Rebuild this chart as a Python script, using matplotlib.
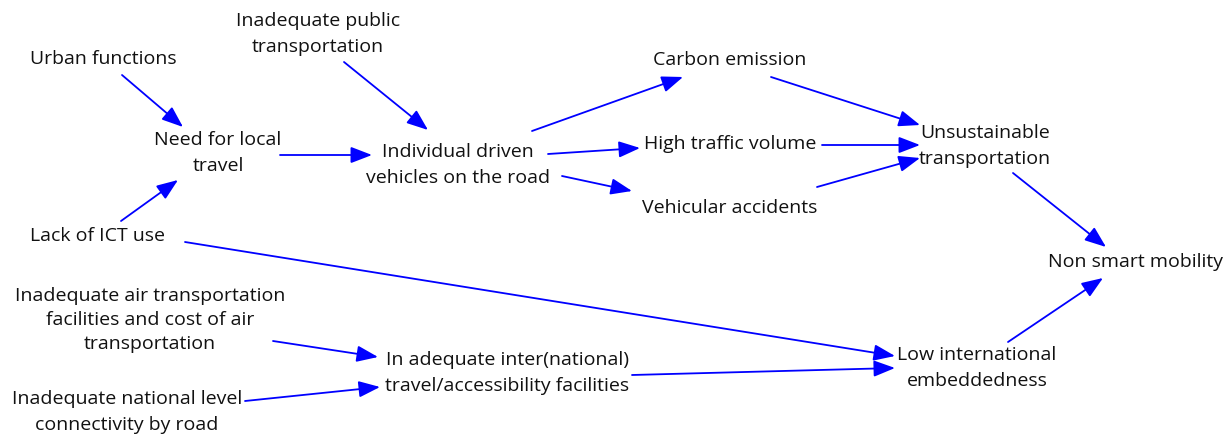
import matplotlib
matplotlib.use("Agg")
import matplotlib.pyplot as plt
from matplotlib.patches import FancyArrowPatch

# Nodes: label text and center position (pixel coordinates, y downward)
node_labels = [
    "Inadequate public\ntransportation",
    "Urban functions",
    "Need for local\ntravel",
    "Individual driven\nvehicles on the road",
    "Carbon emission",
    "High traffic volume",
    "Vehicular accidents",
    "Unsustainable\ntransportation",
    "Non smart mobility",
    "Lack of ICT use",
    "Inadequate air transportation\nfacilities and cost of air\ntransportation",
    "In adequate inter(national)\ntravel/accessibility facilities",
    "Inadequate national level\nconnectivity by road",
    "Low international\nembeddedness",
]
node_x = [318, 103, 218, 458, 730, 730, 730, 985, 1135, 97, 150, 507, 127, 977]
node_y = [34, 59, 153, 165, 60, 144, 208, 146, 262, 236, 320, 373, 412, 368]

# Causal links (start point -> end point)
arrow_start = [(122, 75), (121, 221), (280, 155), (344, 62), (532, 131), (548, 154),
               (562, 176), (771, 77), (822, 145), (817, 187), (1013, 173), (1008, 342),
               (185, 242), (632, 375), (273, 341), (245, 401)]
arrow_end = [(183, 127), (178, 180), (372, 155), (428, 130), (683, 77), (640, 148),
             (632, 191), (920, 125), (920, 145), (920, 158), (1106, 247), (1103, 278),
             (895, 356), (895, 368), (378, 357), (380, 387)]

W, H = 1228, 437
fig = plt.figure(figsize=(W / 100, H / 100), dpi=100)
ax = fig.add_axes([0, 0, 1, 1])
ax.set_xlim(0, W)
ax.set_ylim(H, 0)
ax.axis("off")

for lbl, x, y in zip(node_labels, node_x, node_y):
    ls = 1.45 if lbl.count("\n") > 1 else 1.6
    ax.text(x, y, lbl, ha="center", va="center", fontsize=14, color="#111111",
            family="Open Sans", linespacing=ls)

for (x0, y0), (x1, y1) in zip(arrow_start, arrow_end):
    ar = FancyArrowPatch((x0, y0), (x1, y1),
                         arrowstyle="-|>,head_length=13,head_width=5",
                         mutation_scale=1, shrinkA=0, shrinkB=0,
                         color="#0000ff", lw=1.3)
    ax.add_patch(ar)

fig.savefig("out.png", dpi=100)
